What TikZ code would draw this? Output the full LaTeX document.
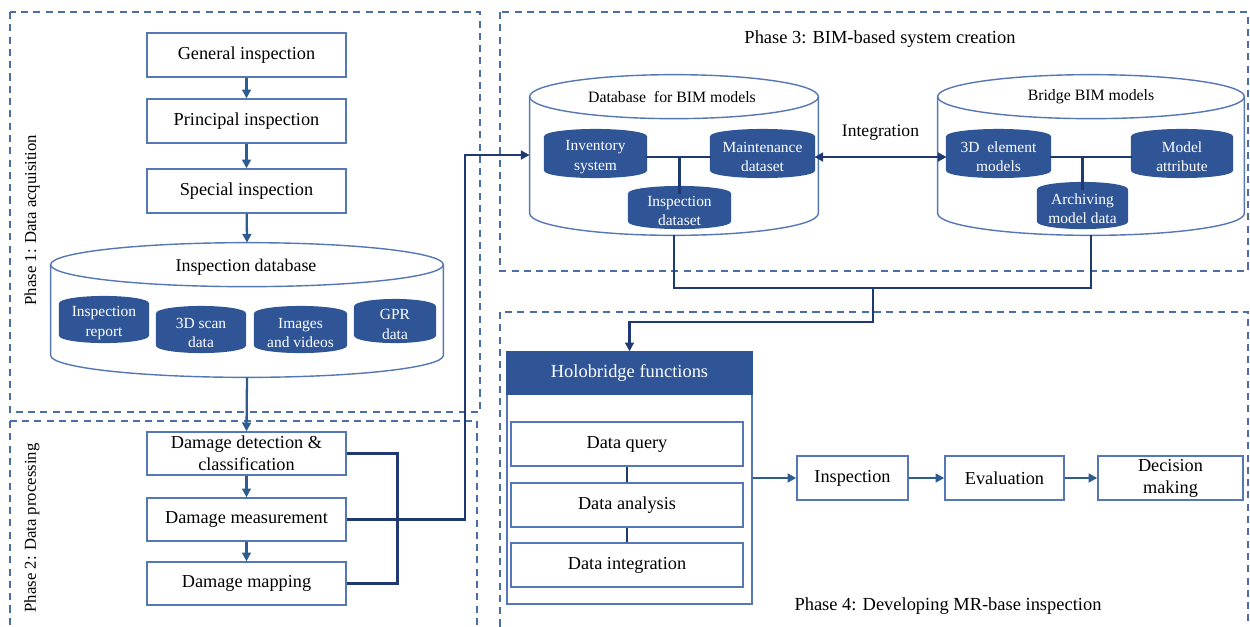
\documentclass[tikz,border=0pt]{standalone}
\usepackage{fontspec}
\setmainfont{Liberation Serif}
\usetikzlibrary{arrows.meta,calc}
\pgfdeclarelayer{background}
\pgfsetlayers{background,main}
\definecolor{dashc}{HTML}{4A6FA8}
\definecolor{boxc}{HTML}{5677B5}
\definecolor{dbfill}{HTML}{2F5597}
\definecolor{navyc}{HTML}{1F3A73}
\definecolor{arrc}{HTML}{2D5C8F}
\newcommand\bx[7]{\node[#6, minimum width={(#4-#2)*0.02cm}, minimum height={(#5-#3)*0.02cm}] (#1) at ({(#2+#4)/2},{(#3+#5)/2}) {#7};}
% #1 node, #2 ry px, #3 fill, #4 draw, #5 top offset factor (1: ellipse inside node, 0: ellipse centred on node top)
\newcommand\cylshape[5]{%
\begin{pgfonlayer}{background}
\path[fill=#3,draw=#4,line width=0.8pt] let \p1=(#1.north west), \p2=(#1.south east), \n1={(\x2-\x1)/2}, \n2={#2*0.02cm}, \n3={#5*#2*0.02cm} in (\x1,\y1-\n3) -- (\x1,\y2+\n2) arc[start angle=180,end angle=360,x radius=\n1,y radius=\n2] -- (\x2,\y1-\n3) arc[start angle=0,end angle=180,x radius=\n1,y radius=\n2] -- cycle;
\end{pgfonlayer}}
\newcommand\bigcyl[2]{%
\cylshape{#1}{#2}{white}{boxc}{1}%
\begin{pgfonlayer}{background}
\draw[boxc,line width=0.8pt] let \p1=(#1.north west), \p2=(#1.south east), \n1={(\x2-\x1)/2}, \n2={#2*0.02cm} in (\x1,\y1-\n2) arc[start angle=180,end angle=360,x radius=\n1,y radius=\n2];
\end{pgfonlayer}}
\newcommand\smallcyl[2]{\cylshape{#1}{#2}{dbfill}{dbfill}{0}}
\begin{document}
\begin{tikzpicture}[x=0.02cm,y=-0.02cm,
  box/.style={draw=boxc, line width=0.8pt, fill=white, inner sep=0pt, align=center, font=\fontsize{10.4}{12.5}\selectfont},
  cylbox/.style={draw=none, inner sep=0pt},
  scyl/.style={draw=none, inner sep=0pt, align=center, text=white, font=\fontsize{8.8}{11}\selectfont},
  hbhead/.style={fill=dbfill, draw=dbfill, line width=0.8pt, inner sep=0pt, text=white, font=\fontsize{10.5}{12.5}\selectfont},
  lbl/.style={inner sep=1pt, font=\fontsize{9}{11}\selectfont},
  title/.style={inner sep=1pt, font=\fontsize{10.5}{12.5}\selectfont},
  phase/.style={draw=dashc, line width=1pt, dash pattern=on 4pt off 3pt},
  conn/.style={draw=navyc, line width=1.6pt},
  tip/.style={-{Triangle[length=5pt,width=5pt]}},
  arr/.style={draw=arrc, line width=1.3pt, tip}]
\useasboundingbox (0,0) rectangle (1250,626);
% phase frames
\draw[phase] (10,12) rectangle (480,412);
\draw[phase] (10,421) rectangle (477,640);
\draw[phase] (500,12) rectangle (1248,271);
\draw[phase] (500,312) rectangle (1248,640);
\node[lbl, rotate=90, font=\fontsize{9.5}{11}\selectfont] (p1) at (32,220) {Phase 1: Data acquisition};
\node[lbl, rotate=90, font=\fontsize{9.5}{11}\selectfont] (p2) at (32,528) {Phase 2: Data processing};
\node[title] (p3) at (880,39) {Phase 3: BIM-based system creation};
\node[title] (p4) at (948,606) {Phase 4: Developing MR-base inspection};
% phase 1
\bx{gen}{147}{33}{346}{77}{box}{General inspection}
\bx{pri}{147}{99}{346}{143}{box}{Principal inspection}
\bx{spe}{147}{169}{346}{213}{box}{Special inspection}
\bx{idb}{51}{243}{443}{377}{cylbox}{}
\node[title, font=\fontsize{10.2}{12}\selectfont] (idbl) at (246,267) {Inspection database};
\bx{irep}{60}{304}{148}{342}{scyl}{Inspection\\report}
\bx{scan}{157}{314}{245}{352}{scyl}{3D scan\\data}
\bx{img}{255}{314}{346}{352}{scyl}{Images\\and videos}
\bx{gpr}{355}{307}{435}{342}{scyl}{GPR\\data}
\bigcyl{idb}{22}
\smallcyl{irep}{7}
\smallcyl{scan}{7}
\smallcyl{img}{7}
\smallcyl{gpr}{7}
% phase 2
\bx{ddc}{147}{432}{346}{475}{box}{Damage detection \&\\classification}
\bx{dme}{147}{498}{346}{541}{box}{Damage measurement}
\bx{dma}{147}{562}{346}{605}{box}{Damage mapping}
% phase 3
\bx{dbb}{530}{75}{818}{235}{cylbox}{}
\node[lbl] (dbbl) at (672,97) {Database\ \ for BIM models};
\bx{inv}{545}{137}{646}{177}{scyl}{Inventory\\system}
\bx{mnt}{711}{137}{814}{177}{scyl}{Maintenance\\dataset}
\bx{ids}{629}{194}{730}{228}{scyl}{Inspection\\dataset}
\bx{bbm}{938}{75}{1244}{235}{cylbox}{}
\node[lbl] (bbml) at (1091,97) {Bridge BIM models};
\bx{e3d}{947}{137}{1050}{177}{scyl}{3D\ \ element\\models}
\bx{mat}{1132}{137}{1232}{177}{scyl}{Model\\attribute}
\bx{amd}{1038}{190}{1127}{228}{scyl}{Archiving\\model data}
\bigcyl{dbb}{22}
\bigcyl{bbm}{22}
\smallcyl{inv}{7}
\smallcyl{mnt}{7}
\smallcyl{ids}{7}
\smallcyl{e3d}{7}
\smallcyl{mat}{7}
\smallcyl{amd}{7}
% phase 4
\bx{hb}{507}{352}{752}{604}{box}{}
\bx{hbh}{507}{352}{752}{394}{hbhead}{Holobridge functions}
\bx{dq}{511}{422}{743}{466}{box}{Data query}
\bx{da}{511}{483}{743}{527}{box}{Data analysis}
\bx{di}{511}{543}{743}{587}{box}{Data integration}
\bx{ins}{797}{456}{908}{500}{box}{Inspection}
\bx{eva}{945}{456}{1064}{500}{box}{Evaluation}
\bx{dec}{1098}{456}{1243}{500}{box}{Decision\\making}
% connectors phase 1-2
\draw[arr] (gen) -- (pri);
\draw[arr] (pri) -- (spe);
\draw[arr] (spe) -- (idb.north);
\draw[arr] (idb.south) -- (ddc.north);
\draw[arr] (ddc) -- (dme);
\draw[arr] (dme) -- (dma);
\draw[conn] (ddc.east) -- ++(51,0) |- (dma.east);
\coordinate (bus) at (465,300);
\draw[conn, tip] (dme.east) -| (bus) |- (dbb.west);
% phase 3 internals
\draw[conn] (inv.east) -- (mnt.west);
\draw[conn] (ids.north) -- (ids.north |- inv.east);
\draw[conn] (e3d.east) -- (mat.west);
\draw[conn] (amd.north) -- (amd.north |- e3d.east);
\draw[conn, {Triangle[length=5pt,width=5pt]}-{Triangle[length=5pt,width=5pt]}, line width=1.3pt] (mnt.east) -- (e3d.west) node[midway, above=9pt, inner sep=0pt, font=\fontsize{10}{12}\selectfont] (intl) {Integration};
\coordinate (mrg) at (873,288);
\coordinate (turn) at (873,322);
\draw[conn] (dbb.south) |- (mrg) -| (bbm.south);
\draw[conn, tip] (mrg) -- (turn) -| (hb.north);
% phase 4
\draw[conn] (dq) -- (da);
\draw[conn] (da) -- (di);
\draw[arr, line width=1.5pt] (hb.east) -- (ins.west);
\draw[arr, line width=1.5pt] (ins) -- (eva);
\draw[arr, line width=1.5pt] (eva) -- (dec);
\end{tikzpicture}
\end{document}
